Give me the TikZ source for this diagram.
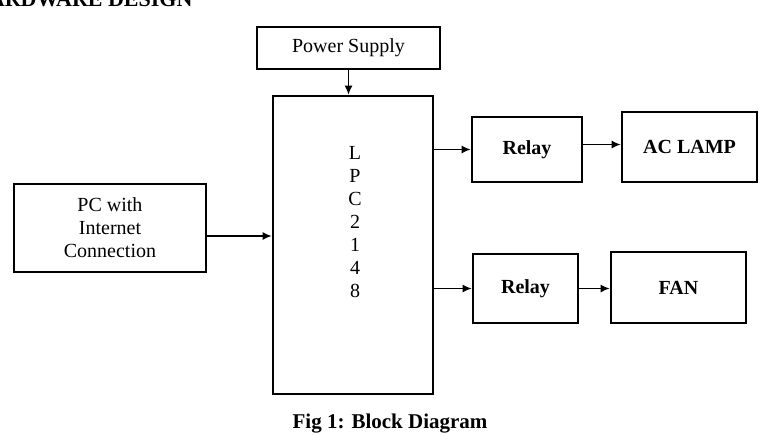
\documentclass[tikz,border=0pt]{standalone}
\usepackage{fontspec}
\setmainfont{Liberation Serif}
\usetikzlibrary{arrows.meta}

\begin{document}
\begin{tikzpicture}[x=1pt,y=-1pt,
    block/.style={draw, line width=2.8pt, inner sep=0pt},
    feed/.style={line width=1.2pt, -{Latex[length=9pt,width=8pt]}},
    plain/.style={font=\fontsize{20}{23}\selectfont},
    heavy/.style={font=\fontsize{20}{23}\selectfont\bfseries}]
    \useasboundingbox (0,0) rectangle (765,434);

    % Heading (cut at the top edge)
    \node[anchor=base east, font=\fontsize{22}{26}\selectfont\bfseries] (heading) at (196,6) {HARDWARE DESIGN};

    % Power supply and controller
    \node[block, plain, minimum width=183pt, minimum height=42pt] (power) at (348.5,48) {Power Supply};
    \node[block, minimum width=160pt, minimum height=298pt] (lpc) at (353,245) {};
    \node[plain, align=center] (lpctext) at (355,222) {L\\P\\C\\2\\1\\4\\8};

    % Input side
    \node[block, plain, align=center, minimum width=192pt, minimum height=88pt] (pc) at (110,228)
        {PC with\\Internet\\Connection};

    % Output side - upper
    \node[block, heavy, minimum width=110pt, minimum height=65pt] (relayA) at (527,149.5) {Relay};
    \node[block, heavy, minimum width=135pt, minimum height=70pt] (lamp) at (689.5,147) {AC LAMP};

    % Output side - lower
    \node[block, heavy, minimum width=105pt, minimum height=69pt] (relayB) at (525.5,288.5) {Relay};
    \node[block, heavy, minimum width=135pt, minimum height=71pt] (fan) at (678.5,287.5) {FAN};

    % Connections
    \draw[feed] (power.south) -- (power.south |- lpc.north);
    \draw[feed] ([yshift=-8pt]pc.east) -- ([yshift=-8pt]pc.east -| lpc.west);
    \draw[feed] (relayA.west -| lpc.east) -- (relayA.west);
    \draw[feed] ([yshift=5pt]relayA.east) -- ([yshift=5pt]relayA.east -| lamp.west);
    \draw[feed] (relayB.west -| lpc.east) -- (relayB.west);
    \draw[feed] (relayB.east) -- (relayB.east -| fan.west);

    % Caption
    \node[font=\fontsize{21}{25}\selectfont\bfseries] (caption) at (390,424) {Fig 1: Block Diagram};
\end{tikzpicture}
\end{document}
